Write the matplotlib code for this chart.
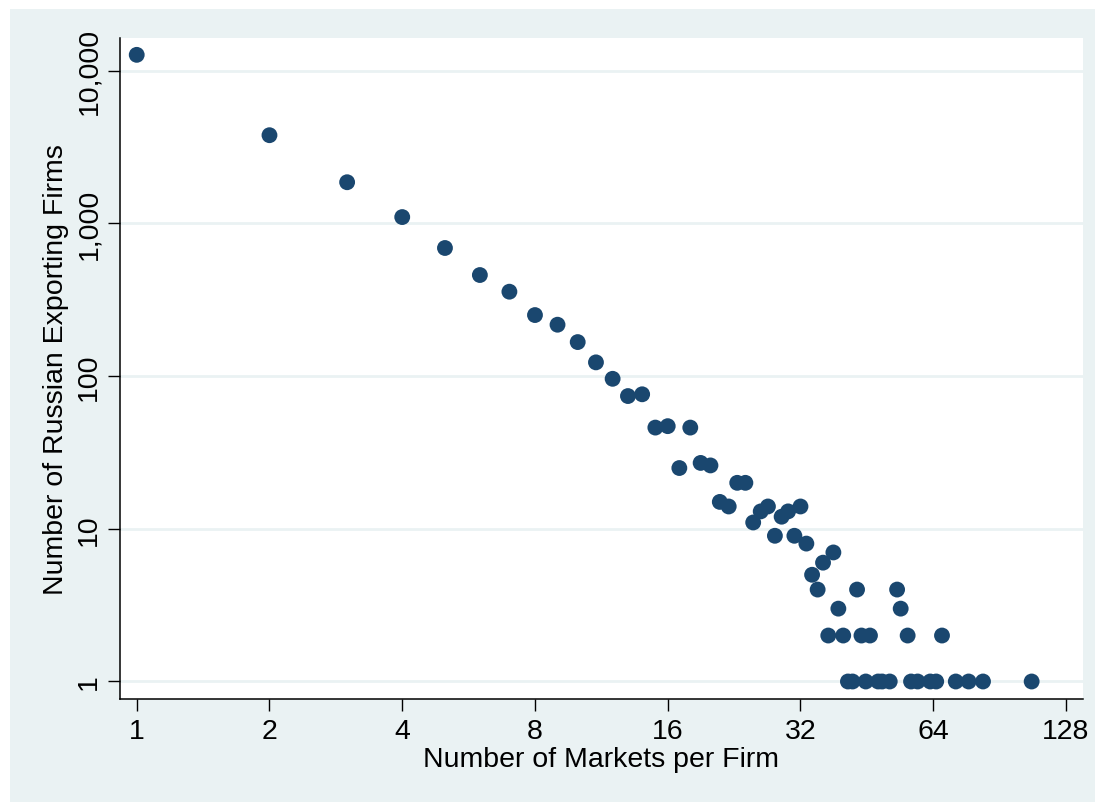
import numpy as np
import matplotlib
matplotlib.use("Agg")
import matplotlib.pyplot as plt
from matplotlib.patches import Rectangle
from matplotlib.ticker import FixedLocator, NullLocator

plt.rcParams['font.family'] = ['Liberation Sans', 'DejaVu Sans']

# number of markets a firm exports to, and how many firms do so
markets = [1, 2, 3, 4, 5, 6, 7, 8, 9, 10,
           11, 12, 13, 14, 15, 16, 17, 18, 19, 20,
           21, 22, 23, 24, 25, 26, 27, 28, 29, 30,
           31, 32, 33, 34, 35, 36, 37, 38, 39, 40,
           41, 42, 43, 44, 45, 46, 48, 49, 51, 53,
           54, 56, 57, 59, 63, 65, 67, 72, 77, 83, 107]
firms = [12700, 3780, 1860, 1100, 690, 459, 357, 251, 217, 167,
         123, 96, 74, 76, 46, 47, 25, 46, 27, 26,
         15, 14, 20, 20, 11, 13, 14, 9, 12, 13,
         9, 14, 8, 5, 4, 6, 2, 7, 3, 2,
         1, 1, 4, 2, 1, 2, 1, 1, 1, 4,
         3, 2, 1, 1, 1, 1, 2, 1, 1, 1, 1]

xticks = [1, 2, 4, 8, 16, 32, 64, 128]
yticks = [1, 10, 100, 1000, 10000]
ylabels = ["1", "10", "100", "1,000", "10,000"]

bg = "#EAF2F3"
navy = "#1A476F"

fig = plt.figure(figsize=(10.95, 8.03), dpi=100, facecolor="white")
fig.patches.append(Rectangle((10/1095, 0), 1 - 10/1095, 1 - 10/803,
                             transform=fig.transFigure, facecolor=bg,
                             edgecolor="none", zorder=-10))

ax = fig.add_axes([119.5/1095, 1 - 700/803, (1083 - 119.5)/1095, (700 - 39)/803])
ax.set_zorder(1)
ax.set_facecolor("white")

ax.scatter(markets, firms, s=130, color=navy, edgecolors="none", zorder=3)

ax.set_xscale("log", base=2)
ax.set_yscale("log")
ax.set_xlim(0.914, 139.9)
ax.set_ylim(0.768, 16370)

ax.xaxis.set_major_locator(FixedLocator(xticks))
ax.xaxis.set_minor_locator(NullLocator())
ax.set_xticklabels([str(t) for t in xticks])
ax.yaxis.set_major_locator(FixedLocator(yticks))
ax.yaxis.set_minor_locator(NullLocator())
ax.set_yticklabels(ylabels, rotation=90, va="center")

ax.grid(axis="y", color=bg, linewidth=2, zorder=1)
ax.set_axisbelow(True)

for side in ["top", "right"]:
    ax.spines[side].set_visible(False)
for side in ["left", "bottom"]:
    ax.spines[side].set_linewidth(1.1)
    ax.spines[side].set_color("black")

ax.tick_params(axis="both", direction="out", length=8.5, width=1.0,
               labelsize=20.5, colors="black")
ax.tick_params(axis="x", pad=5.5)
ax.tick_params(axis="y", pad=4)

ax.set_xlabel("Number of Markets per Firm", fontsize=20.5, labelpad=1)
ax.set_ylabel("Number of Russian Exporting Firms", fontsize=20.5, labelpad=5)

fig.savefig("out.png", dpi=100, facecolor=fig.get_facecolor())
